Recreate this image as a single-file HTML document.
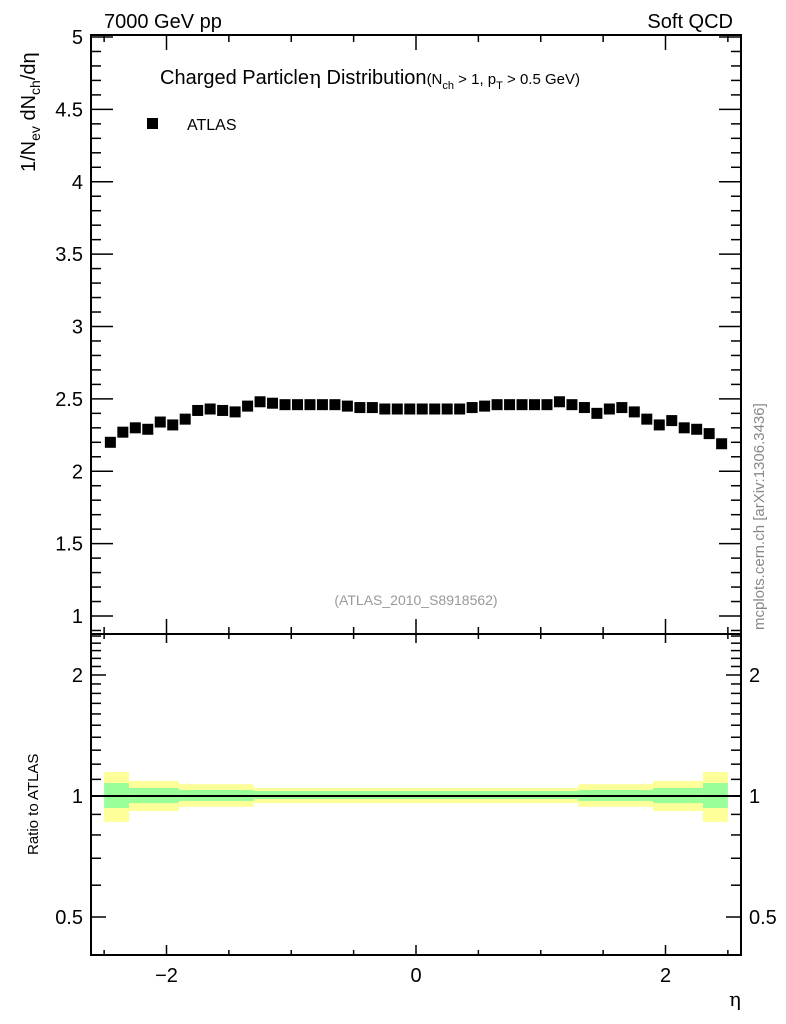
<!DOCTYPE html>
<html><head><meta charset="utf-8"><style>
body{margin:0;background:#fff;}
svg{display:block;font-family:"Liberation Sans",Arial,sans-serif;}
</style></head><body>
<svg id="chartsvg" width="786" height="1024" xmlns="http://www.w3.org/2000/svg">
<text x="104" y="28" font-size="20">7000 GeV pp</text>
<text x="733" y="28" font-size="20" text-anchor="end">Soft QCD</text>
<text x="160" y="84" font-size="20">Charged Particle<tspan font-family="DejaVu Serif, serif">η</tspan> Distribution<tspan font-size="15">(N</tspan><tspan font-size="11" dy="5">ch</tspan><tspan font-size="15" dy="-5"> &gt; 1, p</tspan><tspan font-size="11" dy="5">T</tspan><tspan font-size="15" dy="-5"> &gt; 0.5 GeV)</tspan></text>
<rect x="147" y="118" width="11" height="11" fill="#000"/>
<text x="187" y="130" font-size="16">ATLAS</text>
<text x="416" y="605" font-size="14" fill="#999" text-anchor="middle">(ATLAS_2010_S8918562)</text>
<text transform="translate(35,172) rotate(-90)" font-size="20">1/N<tspan font-size="14" dy="5">ev</tspan><tspan dy="-5"> dN</tspan><tspan font-size="14" dy="5">ch</tspan><tspan dy="-5">/dη</tspan></text>
<text transform="translate(38,855) rotate(-90)" font-size="15">Ratio to ATLAS</text>
<text transform="translate(764,630) rotate(-90)" font-size="15" fill="#888">mcplots.cern.ch [arXiv:1306.3436]</text>
<text x="735" y="1006" font-size="20" text-anchor="middle" font-family="DejaVu Serif, serif">η</text>
<g id="gband"></g><g id="gmark"></g><g id="gaxis"></g>
</svg>
<script>
var etaCenters=[-2.45,-2.35,-2.25,-2.15,-2.05,-1.95,-1.85,-1.75,-1.65,-1.55,-1.45,-1.35,-1.25,-1.15,-1.05,-0.95,-0.85,-0.75,-0.65,-0.55,-0.45,-0.35,-0.25,-0.15,-0.05,0.05,0.15,0.25,0.35,0.45,0.55,0.65,0.75,0.85,0.95,1.05,1.15,1.25,1.35,1.45,1.55,1.65,1.75,1.85,1.95,2.05,2.15,2.25,2.35,2.45];
var atlasValues=[2.20,2.27,2.30,2.29,2.34,2.32,2.36,2.42,2.43,2.42,2.41,2.45,2.48,2.47,2.46,2.46,2.46,2.46,2.46,2.45,2.44,2.44,2.43,2.43,2.43,2.43,2.43,2.43,2.43,2.44,2.45,2.46,2.46,2.46,2.46,2.46,2.48,2.46,2.44,2.40,2.43,2.44,2.41,2.36,2.32,2.35,2.30,2.29,2.26,2.19];
var bandEdges=[-2.5,-2.3,-1.9,-1.3,1.3,1.9,2.3,2.5];
var yellowHi=[1.147,1.09,1.07,1.047,1.07,1.09,1.147];
var yellowLo=[0.862,0.918,0.94,0.96,0.94,0.918,0.862];
var greenHi=[1.077,1.047,1.035,1.029,1.035,1.047,1.077];
var greenLo=[0.934,0.96,0.972,0.983,0.972,0.96,0.934];
var mainTicks=[1,1.5,2,2.5,3,3.5,4,4.5,5];
var ratioTicks=[0.5,1,2];
var xTicks=[-2,0,2];
(function(){
var X0=91,X1=741,Y0=35,YM=634,YB=955;
function xs(v){return 416+v*124.75;}
function ym(v){return 616-(v-1)*144.75;}
function yr(v){return 796-Math.log2(v)*121;}
var SVGNS='http://www.w3.org/2000/svg';
function mk(p,t,a){var e=document.createElementNS(SVGNS,t);for(var k in a){e.setAttribute(k,String(a[k]));}p.appendChild(e);return e;}
var gB=document.getElementById('gband'),gM=document.getElementById('gmark'),gA=document.getElementById('gaxis');
var i,r,t,x,w,y,v;
for(i=0;i<bandEdges.length-1;i++){
  x=xs(bandEdges[i]);w=xs(bandEdges[i+1])-x;
  r=mk(gB,'rect',{x:x,y:yr(yellowHi[i]),width:w,height:yr(yellowLo[i])-yr(yellowHi[i]),fill:'#ffff99'});
  
  
  r=mk(gB,'rect',{x:x,y:yr(greenHi[i]),width:w,height:yr(greenLo[i])-yr(greenHi[i]),fill:'#99ff99'});
  
  
}
r=mk(gB,'line',{x1:X0,x2:X1,y1:yr(1),y2:yr(1),stroke:'#000','stroke-width':2});


for(i=0;i<etaCenters.length;i++){
  r=mk(gM,'rect',{x:xs(etaCenters[i])-5.5,y:ym(atlasValues[i])-5.5,width:11,height:11,fill:'#000'});
  
  
}
r=mk(gA,'rect',{x:X0,y:Y0,width:X1-X0,height:YM-Y0,fill:'none',stroke:'#000','stroke-width':2});


r=mk(gA,'rect',{x:X0,y:YM,width:X1-X0,height:YB-YM,fill:'none',stroke:'#000','stroke-width':2});


function tk(a,b,c,d){mk(gA,'line',{x1:a,y1:b,x2:c,y2:d,stroke:'#000','stroke-width':1.5});}
for(i=9;i<=50;i++){v=i/10;y=ym(v);if(y<Y0||y>YM)continue;var L=(i%5===0)?22:10;tk(X0,y,X0+L,y);tk(X1,y,X1-L,y);}
mainTicks.forEach(function(v){var t=mk(gA,'text',{x:X0-8,y:ym(v)+7,'font-size':20,'text-anchor':'end'});t.textContent=String(v);});
for(i=4;i<=25;i++){v=i/10;y=yr(v);if(y<YM||y>YB)continue;var L2=(ratioTicks.indexOf(v)>=0)?15:10;tk(X0,y,X0+L2,y);tk(X1,y,X1-L2,y);}
ratioTicks.forEach(function(v){var t=mk(gA,'text',{x:X0-8,y:yr(v)+7,'font-size':20,'text-anchor':'end'});t.textContent=String(v);
 t=mk(gA,'text',{x:X1+8,y:yr(v)+7,'font-size':20});t.textContent=String(v);});
for(i=-5;i<=5;i++){v=i/2;x=xs(v);var maj=(i%4===0);
 tk(x,Y0,x,Y0+(maj?15:7));tk(x,YM-(maj?15:7),x,YM+(maj?9:5));tk(x,YB,x,YB-(maj?10:5));}
xTicks.forEach(function(v){var t=mk(gA,'text',{x:xs(v),y:982,'font-size':20,'text-anchor':'middle'});t.textContent=v<0?'\u2212'+(-v):String(v);});
})();
</script>
</body></html>
